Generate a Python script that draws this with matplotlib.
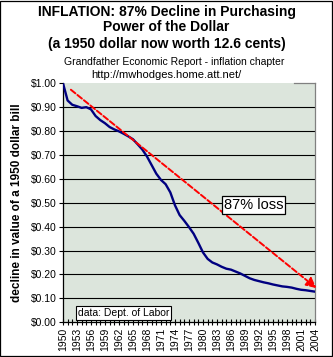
import matplotlib
matplotlib.use("Agg")
import matplotlib.pyplot as plt
from matplotlib.patches import Rectangle
from matplotlib.ticker import MultipleLocator, FuncFormatter

plt.rcParams['font.family'] = ['Liberation Sans', 'DejaVu Sans']

# value of a 1950 dollar
years = list(range(1950, 2005))
value = [1.000, 0.927, 0.909, 0.903, 0.896, 0.899, 0.890, 0.862, 0.845, 0.832,
         0.816, 0.806, 0.798, 0.788, 0.777, 0.765, 0.744, 0.722, 0.693, 0.657,
         0.621, 0.595, 0.577, 0.543, 0.489, 0.448, 0.424, 0.398, 0.370, 0.332,
         0.292, 0.265, 0.250, 0.242, 0.232, 0.224, 0.220, 0.212, 0.204, 0.194,
         0.184, 0.177, 0.172, 0.167, 0.163, 0.158, 0.154, 0.150, 0.148, 0.145,
         0.140, 0.136, 0.134, 0.131, 0.128]
tick_years = years[::3]

# trend arrow end points (year, value)
arrow_start = (1951.7, 0.972)
arrow_end = (2004.3, 0.143)

title_lines = ["INFLATION: 87% Decline in Purchasing",
               "Power of the Dollar",
               "(a 1950 dollar now worth 12.6 cents)"]
subtitle = "Grandfather Economic Report - inflation chapter"
url = "http://mwhodges.home.att.net/"

fig = plt.figure(figsize=(3.33, 3.57), dpi=100)
ax = fig.add_axes([0.189, 0.0972, 0.757, 0.6703])
ax.set_facecolor('#dce5dc')

# gridlines (no line drawn at the top edge)
for v in [i / 10 for i in range(1, 10)]:
    ax.axhline(v, color='black', lw=0.8, zorder=1)

ax.plot(years, value, color='#000080', lw=1.7, zorder=3)

ax.annotate("", xy=arrow_end, xytext=arrow_start,
            arrowprops=dict(arrowstyle='-|>,head_length=0.6,head_width=0.3',
                            color='red', lw=1.4, linestyle=(0, (3, 1.3)),
                            shrinkA=0, shrinkB=0),
            annotation_clip=False, zorder=4)

ax.set_xlim(1950, 2004)
ax.set_ylim(0, 1.0)
ax.set_xticks(tick_years)
ax.set_xticklabels([str(y) for y in tick_years], rotation=90, fontsize=7.5)
ax.xaxis.set_minor_locator(MultipleLocator(1))
ax.yaxis.set_major_locator(MultipleLocator(0.1))
ax.yaxis.set_major_formatter(FuncFormatter(lambda v, p: f"${v:.2f}"))
ax.tick_params(axis='x', which='both', direction='inout', length=4, width=0.8, pad=2)
ax.tick_params(axis='y', direction='out', length=3, width=0.8, labelsize=7.5, pad=1.5)

for side in ['left', 'bottom']:
    ax.spines[side].set_color('black')
    ax.spines[side].set_linewidth(0.9)
for side in ['top', 'right']:
    ax.spines[side].set_color('#808080')
    ax.spines[side].set_linewidth(0.9)
ax.spines['top'].set_bounds(1999.5, 2004)

ax.text(0.756, 0.49, "87% loss", transform=ax.transAxes, fontsize=10.5,
        ha='center', va='center', zorder=5,
        bbox=dict(boxstyle='square,pad=0.12', fc='white', ec='black', lw=0.9))
ax.text(0.24, 0.039, "data: Dept. of Labor", transform=ax.transAxes, fontsize=7.5,
        ha='center', va='center', zorder=5,
        bbox=dict(boxstyle='square,pad=0.15', fc='white', ec='black', lw=0.8))

fig.text(0.05, 0.432, "decline in value of a 1950 dollar bill", rotation=90,
         fontsize=8.5, fontweight='bold', ha='center', va='center')

for y, line in zip([0.966, 0.923, 0.876], title_lines):
    fig.text(0.50, y, line, fontsize=10, fontweight='bold', ha='center', va='center')
fig.text(0.523, 0.826, subtitle, fontsize=7.5, ha='center', va='center')
fig.text(0.50, 0.790, url, fontsize=8, ha='center', va='center')

fig.patches.append(Rectangle((0.0015, 0.0015), 0.994, 0.995, transform=fig.transFigure,
                             fill=False, ec='black', lw=0.9))

fig.savefig("out.png", dpi=100)
